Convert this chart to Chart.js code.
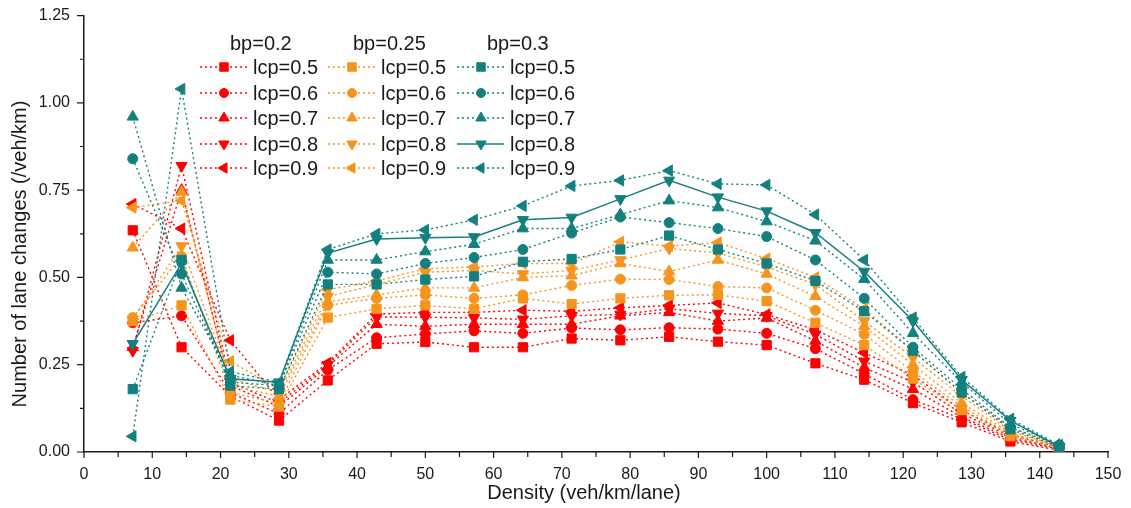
<!DOCTYPE html>
<html>
<head>
<meta charset="utf-8">
<script src="https://cdn.jsdelivr.net/npm/chart.js@4/dist/chart.umd.min.js"></script>
<style>
  html, body { margin: 0; padding: 0; background: #fff; }
  #wrap { width: 1131px; height: 508px; }
</style>
</head>
<body>
<div id="wrap"><canvas id="lane-chart" width="1131" height="508"></canvas></div>
<script>
// densidade (veh/km/lane) e trocas de faixa para cada bp / lcp

const density = [7.14, 14.29, 21.43, 28.57, 35.71, 42.86, 50, 57.14, 64.29, 71.43,
                 78.57, 85.71, 92.86, 100, 107.14, 114.29, 121.43, 128.57, 135.71, 142.86];

const groups = ['bp=0.2', 'bp=0.25', 'bp=0.3'];
const lcpLabels = ['lcp=0.5', 'lcp=0.6', 'lcp=0.7', 'lcp=0.8', 'lcp=0.9'];

const xTicks = [0, 10, 20, 30, 40, 50, 60, 70, 80, 90, 100, 110, 120, 130, 140, 150];
const yTicks = [0, 0.25, 0.5, 0.75, 1.0, 1.25];

// bp = 0.2
const bp20_lcp05 = [0.635, 0.30, 0.16, 0.09, 0.205, 0.31, 0.315, 0.30, 0.30, 0.325, 0.32, 0.33, 0.316, 0.306, 0.254, 0.207, 0.14, 0.085, 0.03, 0.005];
const bp20_lcp06 = [0.37, 0.39, 0.17, 0.11, 0.235, 0.327, 0.338, 0.347, 0.34, 0.355, 0.35, 0.356, 0.352, 0.34, 0.296, 0.224, 0.15, 0.095, 0.035, 0.008];
const bp20_lcp07 = [0.30, 0.75, 0.19, 0.13, 0.245, 0.366, 0.36, 0.366, 0.366, 0.366, 0.39, 0.40, 0.375, 0.384, 0.318, 0.242, 0.18, 0.10, 0.04, 0.01];
const bp20_lcp08 = [0.29, 0.82, 0.20, 0.14, 0.25, 0.387, 0.386, 0.384, 0.38, 0.39, 0.394, 0.41, 0.397, 0.39, 0.337, 0.26, 0.20, 0.11, 0.045, 0.01];
const bp20_lcp09 = [0.71, 0.64, 0.32, 0.15, 0.255, 0.395, 0.40, 0.40, 0.406, 0.403, 0.413, 0.42, 0.427, 0.394, 0.35, 0.284, 0.22, 0.12, 0.05, 0.012];

// bp = 0.25
const bp25_lcp05 = [0.375, 0.42, 0.15, 0.13, 0.385, 0.41, 0.42, 0.41, 0.44, 0.424, 0.44, 0.449, 0.45, 0.432, 0.37, 0.306, 0.21, 0.12, 0.045, 0.01];
const bp25_lcp06 = [0.385, 0.56, 0.17, 0.14, 0.42, 0.44, 0.45, 0.44, 0.45, 0.477, 0.495, 0.494, 0.474, 0.47, 0.406, 0.337, 0.23, 0.13, 0.05, 0.012];
const bp25_lcp07 = [0.585, 0.745, 0.19, 0.16, 0.43, 0.45, 0.47, 0.47, 0.50, 0.505, 0.54, 0.517, 0.55, 0.51, 0.446, 0.36, 0.25, 0.14, 0.055, 0.014];
const bp25_lcp08 = [0.38, 0.59, 0.21, 0.17, 0.445, 0.48, 0.515, 0.52, 0.51, 0.52, 0.55, 0.583, 0.57, 0.53, 0.48, 0.375, 0.27, 0.16, 0.06, 0.015];
const bp25_lcp09 = [0.70, 0.72, 0.26, 0.18, 0.465, 0.49, 0.525, 0.53, 0.54, 0.54, 0.602, 0.59, 0.60, 0.554, 0.50, 0.41, 0.29, 0.17, 0.07, 0.017];

// bp = 0.3
const bp30_lcp05 = [0.18, 0.55, 0.19, 0.18, 0.48, 0.48, 0.494, 0.503, 0.545, 0.553, 0.58, 0.62, 0.58, 0.54, 0.49, 0.403, 0.29, 0.17, 0.065, 0.015];
const bp30_lcp06 = [0.84, 0.51, 0.20, 0.19, 0.515, 0.51, 0.54, 0.557, 0.58, 0.627, 0.673, 0.657, 0.64, 0.617, 0.55, 0.44, 0.30, 0.18, 0.07, 0.02];
const bp30_lcp07 = [0.96, 0.47, 0.22, 0.19, 0.55, 0.55, 0.574, 0.595, 0.64, 0.64, 0.68, 0.72, 0.70, 0.66, 0.605, 0.495, 0.34, 0.20, 0.08, 0.02];
const bp30_lcp08 = [0.31, 0.54, 0.21, 0.20, 0.57, 0.61, 0.614, 0.616, 0.665, 0.672, 0.725, 0.778, 0.73, 0.69, 0.628, 0.517, 0.375, 0.207, 0.09, 0.015];
const bp30_lcp09 = [0.045, 1.04, 0.23, 0.20, 0.58, 0.625, 0.636, 0.665, 0.705, 0.762, 0.778, 0.806, 0.768, 0.765, 0.68, 0.55, 0.385, 0.215, 0.095, 0.02];

const seriesByGroup = [
    [bp20_lcp05, bp20_lcp06, bp20_lcp07, bp20_lcp08, bp20_lcp09],
    [bp25_lcp05, bp25_lcp06, bp25_lcp07, bp25_lcp08, bp25_lcp09],
    [bp30_lcp05, bp30_lcp06, bp30_lcp07, bp30_lcp08, bp30_lcp09]
];

const groupColors = ['#ff0000', '#f7941d', '#13807f'];
const markers = [
    { pointStyle: 'rect', rotation: 0, radius: 6.5 },
    { pointStyle: 'circle', rotation: 0, radius: 5 },
    { pointStyle: 'triangle', rotation: 0, radius: 6.5 },
    { pointStyle: 'triangle', rotation: 180, radius: 6.5 },
    { pointStyle: 'triangle', rotation: 270, radius: 6.5 }
];
const dotted = [2, 3];

Chart.defaults.font.family = "'Liberation Sans', Arial, sans-serif";
Chart.defaults.color = '#1a1a1a';

const datasets = [];
seriesByGroup.forEach((group, g) => {
    group.forEach((values, i) => {
        const m = markers[i];
        const solid = (g === 2 && i === 3); // só bp=0.3 lcp=0.8 é linha contínua
        datasets.push({
            label: groups[g] + ' ' + lcpLabels[i],
            data: density.map((d, k) => ({ x: d, y: values[k] })),
            borderColor: groupColors[g],
            backgroundColor: groupColors[g],
            borderWidth: solid ? 1.5 : 1.4,
            borderDash: solid ? [] : dotted,
            pointStyle: m.pointStyle,
            pointRotation: m.rotation,
            pointRadius: m.radius,
            pointBorderWidth: 1,
            tension: 0,
            order: 3 - g,
            _group: g,
            _row: i
        });
    });
});

// legenda em 3 colunas com cabeçalho
const legendPlugin = {
    id: 'threeColLegend',
    afterDraw(chart) {
        const ctx = chart.ctx;
        const colX = [200, 328, 457];
        const headX = [230, 353, 487];
        const headY = 44;
        const rowY = [67, 93, 118, 144, 168];
        ctx.save();
        ctx.font = "20px 'Liberation Sans', Arial, sans-serif";
        ctx.textBaseline = 'middle';
        ctx.textAlign = 'left';
        groups.forEach((name, g) => {
            ctx.fillStyle = '#1a1a1a';
            ctx.fillText(name, headX[g], headY);
        });
        chart.data.datasets.forEach(ds => {
            const x0 = colX[ds._group];
            const y = rowY[ds._row];
            ctx.strokeStyle = ds.borderColor;
            ctx.fillStyle = ds.backgroundColor;
            ctx.lineWidth = ds.borderWidth;
            ctx.setLineDash(ds.borderDash);
            ctx.beginPath();
            ctx.moveTo(x0, y);
            ctx.lineTo(x0 + 47, y);
            ctx.stroke();
            ctx.setLineDash([]);
            ctx.lineWidth = 1;
            Chart.helpers.drawPoint(ctx, {
                pointStyle: ds.pointStyle,
                rotation: ds.pointRotation,
                radius: ds.pointRadius - 0.5,
                borderWidth: 1
            }, x0 + 24, y);
            ctx.fillStyle = '#1a1a1a';
            ctx.fillText(lcpLabels[ds._row], x0 + 53, y + 1);
        });
        ctx.restore();
    }
};

// marcas dos eixos (maiores e menores, para fora) e títulos
const axisPlugin = {
    id: 'axisDecor',
    afterDraw(chart) {
        const { ctx, scales: { x, y }, chartArea } = chart;
        ctx.save();
        ctx.strokeStyle = '#1a1a1a';
        ctx.lineWidth = 1.2;
        ctx.beginPath();
        xTicks.forEach((v, k) => {
            const px = x.getPixelForValue(v);
            ctx.moveTo(px, chartArea.bottom);
            ctx.lineTo(px, chartArea.bottom + 6);
            if (k < xTicks.length - 1) {
                const mid = x.getPixelForValue((v + xTicks[k + 1]) / 2);
                ctx.moveTo(mid, chartArea.bottom);
                ctx.lineTo(mid, chartArea.bottom + 5);
            }
        });
        yTicks.forEach((v, k) => {
            const py = y.getPixelForValue(v);
            ctx.moveTo(chartArea.left, py);
            ctx.lineTo(chartArea.left - 7, py);
            if (k < yTicks.length - 1) {
                const mid = y.getPixelForValue((v + yTicks[k + 1]) / 2);
                ctx.moveTo(chartArea.left, mid);
                ctx.lineTo(chartArea.left - 4, mid);
            }
        });
        ctx.stroke();

        ctx.fillStyle = '#1a1a1a';
        ctx.font = "20px 'Liberation Sans', Arial, sans-serif";
        ctx.textAlign = 'center';
        ctx.textBaseline = 'middle';
        ctx.fillText('Density (veh/km/lane)', 584, 493);
        ctx.translate(20, 254);
        ctx.rotate(-Math.PI / 2);
        ctx.fillText('Number of lane changes (/veh/km)', 0, 0);
        ctx.restore();
    }
};

const ctx = document.getElementById('lane-chart').getContext('2d');
new Chart(ctx, {
    type: 'line',
    data: { datasets },
    options: {
        responsive: false,
        animation: false,
        devicePixelRatio: 1,
        layout: { padding: { top: 12, right: 23, left: 0, bottom: 0 } },
        plugins: {
            legend: { display: false },
            tooltip: { enabled: false }
        },
        scales: {
            x: {
                type: 'linear',
                min: 0,
                max: 150,
                afterBuildTicks: s => { s.ticks = xTicks.map(v => ({ value: v })); },
                ticks: { font: { size: 16 }, padding: 5, maxRotation: 0, color: '#1a1a1a' },
                grid: { display: false },
                border: { display: true, color: '#1a1a1a', width: 1.5 },
                afterFit: s => { s.height = 56; }
            },
            y: {
                type: 'linear',
                min: 0,
                max: 1.25,
                afterBuildTicks: s => { s.ticks = yTicks.map(v => ({ value: v })); },
                ticks: { font: { size: 16 }, padding: 6, color: '#1a1a1a', callback: v => Number(v).toFixed(2) },
                grid: { display: false },
                border: { display: true, color: '#1a1a1a', width: 1.5 },
                afterFit: s => { s.width = 84; }
            }
        }
    },
    plugins: [axisPlugin, legendPlugin]
});
</script>
</body>
</html>
